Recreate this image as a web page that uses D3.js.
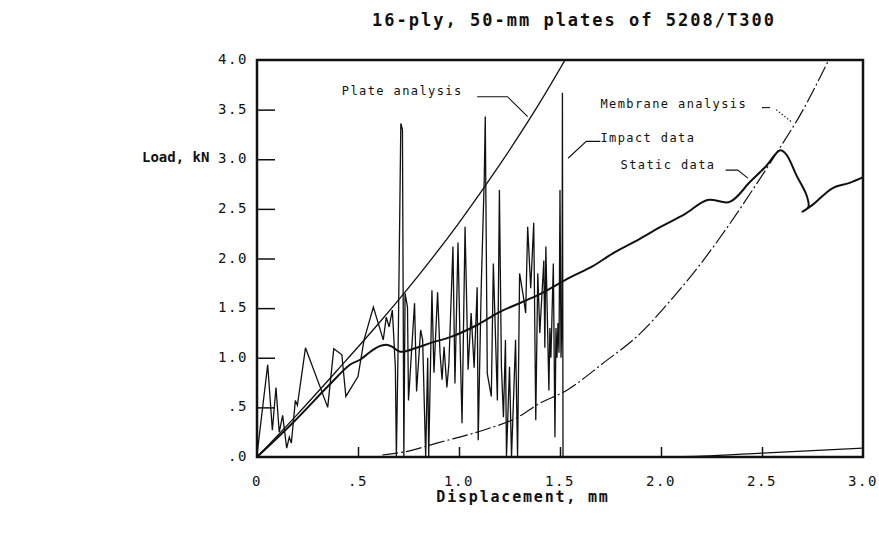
<!DOCTYPE html>
<html><head><meta charset="utf-8">
<script src="https://cdn.jsdelivr.net/npm/d3@7/dist/d3.min.js"></script>
<style>
html,body{margin:0;padding:0;background:#fff;}
svg text{font-family:"DejaVu Sans Mono","Liberation Mono",monospace;fill:#111;}
</style></head>
<body><svg id="c" width="879" height="535"></svg>
<script>
// ---- data (displacement mm, load kN) ----
const titleText = "16-ply, 50-mm plates of 5208/T300";
const xLabel = "Displacement, mm";
const yLabel = "Load, kN";
const xTicks = [0, 0.5, 1.0, 1.5, 2.0, 2.5, 3.0];
const xTickLabels = ["0", ".5", "1.0", "1.5", "2.0", "2.5", "3.0"];
const yTicks = [0, 0.5, 1.0, 1.5, 2.0, 2.5, 3.0, 3.5, 4.0];
const yTickLabels = [".0", ".5", "1.0", "1.5", "2.0", "2.5", "3.0", "3.5", "4.0"];

const plateAnalysis = [[0,0],[0.2,0.43],[0.4,0.88],[0.6,1.34],[0.8,1.83],[1.0,2.36],[1.2,2.94],[1.4,3.57],[1.525,4.0]];
const membraneAnalysis = [[0.62,0.02],[0.75,0.06],[0.89,0.14],[1.12,0.27],[1.29,0.40],[1.39,0.53],[1.54,0.68],[1.71,0.94],[1.90,1.25],[2.04,1.56],[2.19,1.93],[2.32,2.29],[2.44,2.65],[2.59,3.12],[2.69,3.45],[2.83,4.0]];
const staticData = [[0,0],[0.18,0.35],[0.35,0.71],[0.46,0.93],[0.51,0.98],[0.59,1.1],[0.64,1.13],[0.67,1.11],[0.71,1.06],[0.79,1.10],[0.86,1.15],[0.96,1.21],[1.09,1.33],[1.2,1.46],[1.39,1.63],[1.55,1.81],[1.66,1.92],[1.76,2.05],[1.88,2.18],[2.0,2.32],[2.12,2.45],[2.23,2.59],[2.34,2.57],[2.44,2.77],[2.52,2.93],[2.59,3.09],[2.62,3.05],[2.67,2.84],[2.72,2.64],[2.73,2.52],[2.70,2.47],[2.75,2.54],[2.85,2.71],[2.93,2.76],[3.0,2.82]];
const impactData = [[0,0.02],[0.053,0.93],[0.076,0.27],[0.094,0.70],[0.11,0.25],[0.127,0.42],[0.147,0.09],[0.16,0.2],[0.17,0.14],[0.19,0.57],[0.2,0.52],[0.24,1.10],[0.35,0.5],[0.38,1.09],[0.42,1.03],[0.44,0.61],[0.5,0.81],[0.53,1.18],[0.576,1.51],[0.625,1.18],[0.64,1.41],[0.654,1.31],[0.67,1.48],[0.685,0.9],[0.69,0.0],[0.70,1.3],[0.712,3.36],[0.72,3.3],[0.727,0.0],[0.733,1.65],[0.745,1.51],[0.75,0.57],[0.78,1.55],[0.79,0.66],[0.81,1.28],[0.82,1.18],[0.835,0],[0.845,1.0],[0.85,0],[0.866,1.68],[0.876,0.85],[0.894,1.66],[0.906,1.05],[0.916,0.78],[0.926,1.11],[0.94,0.70],[0.95,0.94],[0.97,2.12],[0.98,0.74],[0.995,2.16],[1.005,1.18],[1.015,0.34],[1.03,2.32],[1.045,0.88],[1.06,1.45],[1.075,0.9],[1.09,1.71],[1.095,0.17],[1.11,1.71],[1.125,2.8],[1.13,3.43],[1.14,0.84],[1.16,0.61],[1.17,1.95],[1.19,0.57],[1.20,2.69],[1.21,0.91],[1.22,0.40],[1.23,1.18],[1.235,0],[1.25,0.91],[1.26,0],[1.28,1.18],[1.29,0],[1.30,1.85],[1.32,1.6],[1.33,1.45],[1.34,2.32],[1.355,1.7],[1.37,2.36],[1.38,0.37],[1.39,1.85],[1.40,1.25],[1.42,1.98],[1.425,1.1],[1.43,2.12],[1.445,0.67],[1.45,1.3],[1.455,1.0],[1.467,1.95],[1.475,0.2],[1.48,1.3],[1.485,1.0],[1.49,1.35],[1.495,1.05],[1.50,2.69],[1.505,1.0],[1.51,1.4],[1.512,3.67],[1.515,0]];
const lowerCurve = [[1.9,0],[2.2,0.01],[2.5,0.04],[3.0,0.09]];

// annotations (data coordinates)
const annotations = [
  {text:"Plate analysis", at:[0.42,3.68], leader:[[1.09,3.63],[1.24,3.63],[1.34,3.43]], dash:null},
  {text:"Membrane analysis", at:[1.70,3.55], leader:[[2.50,3.52],[2.54,3.52]], dash:null},
  {text:"", at:[2.57,3.50], leader:[[2.57,3.50],[2.65,3.37]], dash:"1.5,2"},
  {text:"Impact data", at:[1.70,3.21], leader:[[1.70,3.18],[1.63,3.18],[1.54,3.01]], dash:null},
  {text:"Static data", at:[1.80,2.94], leader:[[2.32,2.89],[2.38,2.89],[2.43,2.81]], dash:null}
];

// ---- drawing ----
const svg = d3.select("#c");
const x = d3.scaleLinear().domain([0,3]).range([257,863]);
const y = d3.scaleLinear().domain([0,4]).range([457,60]);

svg.append("defs").append("clipPath").attr("id","pa")
  .append("rect").attr("x",x(0)).attr("y",y(4)).attr("width",x(3)-x(0)).attr("height",y(0)-y(4));

const line = d3.line().x(d=>x(d[0])).y(d=>y(d[1]));
const smooth = d3.line().x(d=>x(d[0])).y(d=>y(d[1])).curve(d3.curveMonotoneX);
const g = svg.append("g").attr("clip-path","url(#pa)");

g.append("path").datum(lowerCurve).attr("d",smooth).attr("fill","none").attr("stroke","#111").attr("stroke-width",1.2);
g.append("path").datum(membraneAnalysis).attr("d",smooth).attr("fill","none").attr("stroke","#111").attr("stroke-width",1.2).attr("stroke-dasharray","16,3,2,3");
g.append("path").datum(plateAnalysis).attr("d",smooth).attr("fill","none").attr("stroke","#111").attr("stroke-width",1.3);
g.append("path").datum(impactData).attr("d",line).attr("fill","none").attr("stroke","#111").attr("stroke-width",1.3).attr("stroke-linejoin","miter");
g.append("path").datum(staticData).attr("d",d3.line().x(d=>x(d[0])).y(d=>y(d[1])).curve(d3.curveCatmullRom.alpha(0.5))).attr("fill","none").attr("stroke","#111").attr("stroke-width",2);

// frame
svg.append("rect").attr("x",x(0)).attr("y",y(4)).attr("width",x(3)-x(0)).attr("height",y(0)-y(4))
  .attr("fill","none").attr("stroke","#111").attr("stroke-width",2.5);

// inner ticks via d3 axes
const yAxis = d3.axisLeft(y).tickValues(yTicks.slice(1,-1)).tickSize(-18).tickFormat("");
svg.append("g").attr("transform",`translate(${x(0)},0)`).call(yAxis)
  .call(s=>{s.select(".domain").remove(); s.selectAll("line").attr("stroke","#111").attr("stroke-width",1.5);});
const xAxis = d3.axisBottom(x).tickValues(xTicks.slice(1,-1)).tickSize(-10).tickFormat("");
svg.append("g").attr("transform",`translate(0,${y(0)})`).call(xAxis)
  .call(s=>{s.select(".domain").remove(); s.selectAll("line").attr("stroke","#111").attr("stroke-width",1.5);});

// tick labels
svg.append("g").selectAll("text").data(yTicks).join("text")
  .attr("x",x(0)-9).attr("y",d=>y(d)).attr("text-anchor","end").attr("dominant-baseline","middle")
  .attr("font-size",14).attr("letter-spacing",1.6).text((d,i)=>yTickLabels[i]);
svg.append("g").selectAll("text").data(xTicks).join("text")
  .attr("x",d=>x(d)).attr("y",y(0)+25).attr("text-anchor","middle").attr("dominant-baseline","middle")
  .attr("font-size",14).attr("letter-spacing",1.6).text((d,i)=>xTickLabels[i]);

// titles
svg.append("text").attr("x",574).attr("y",21).attr("text-anchor","middle").attr("dominant-baseline","middle")
  .attr("font-size",17).attr("font-weight","bold").attr("letter-spacing",2).text(titleText);
svg.append("text").attr("x",142).attr("y",158).attr("dominant-baseline","middle")
  .attr("font-size",14).attr("font-weight","bold").attr("letter-spacing",0).text(yLabel);
svg.append("text").attr("x",523).attr("y",497).attr("text-anchor","middle").attr("dominant-baseline","middle")
  .attr("font-size",15).attr("font-weight","bold").attr("letter-spacing",1.8).text(xLabel);

// annotations
annotations.forEach(a=>{
  if(a.text) svg.append("text").attr("x",x(a.at[0])).attr("y",y(a.at[1])).attr("dominant-baseline","middle")
    .attr("font-size",12).attr("letter-spacing",1.4).text(a.text);
  const p = svg.append("path").datum(a.leader).attr("d",line).attr("fill","none").attr("stroke","#111").attr("stroke-width",1.1);
  if(a.dash) p.attr("stroke-dasharray",a.dash);
});
</script></body></html>
